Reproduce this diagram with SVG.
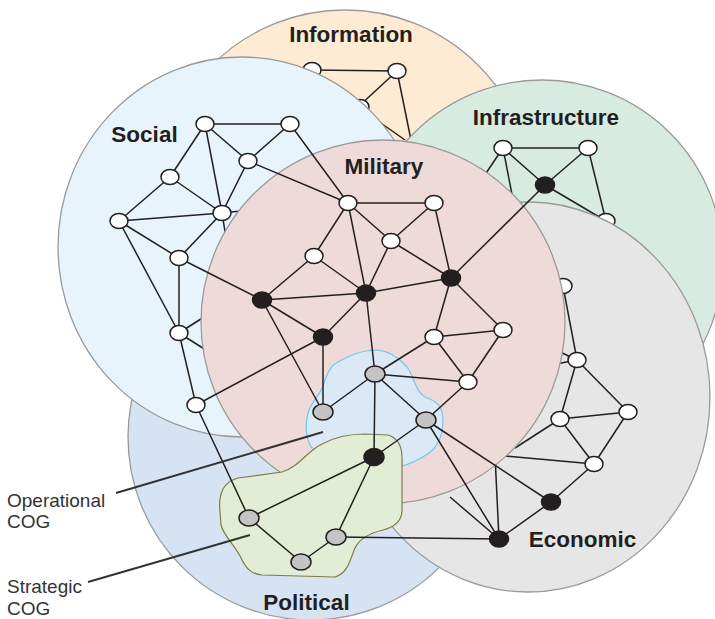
<svg xmlns="http://www.w3.org/2000/svg" width="715" height="619" viewBox="0 0 715 619">
<defs>
<style>
.c{stroke:#9a9a9a;stroke-width:1.3}
.e{stroke:#231f20;stroke-width:1.5;fill:none}
.w{fill:#ffffff;stroke:#231f20;stroke-width:1.5}
.k{fill:#231f20;stroke:#231f20;stroke-width:1.5}
.g{fill:#c4c4c4;stroke:#231f20;stroke-width:1.5}
.lbl{font-family:"Liberation Sans",Arial,Helvetica,sans-serif;font-weight:bold;font-size:22.5px;fill:#231f20;text-anchor:middle}
.ann{font-family:"Liberation Sans",Arial,Helvetica,sans-serif;font-size:19px;fill:#333333}
.lead{stroke:#333333;stroke-width:2;fill:none}
</style>
</defs>
<rect width="715" height="619" fill="#ffffff"/>

<g id="layer-information">
<circle class="c" cx="345" cy="198" r="188" fill="#fdebd4"/>
<g class="e"><line x1="312" y1="70" x2="397" y2="71"/><line x1="397" y1="71" x2="358" y2="107"/><line x1="397" y1="71" x2="413" y2="150"/><line x1="358" y1="107" x2="405" y2="140"/></g>
<g id="n-I1"><ellipse class="w" cx="312" cy="70" rx="9" ry="7.5"/></g>
<g id="n-I2"><ellipse class="w" cx="397" cy="71" rx="9" ry="7.5"/></g>
<g id="n-I3"><ellipse class="w" cx="360" cy="107" rx="9" ry="7.5"/></g>
<text class="lbl" x="351" y="42">Information</text>
</g>

<g id="layer-infrastructure">
<circle class="c" cx="542" cy="261" r="181" fill="#d7ebe1"/>
<g class="e"><line x1="503" y1="148" x2="588" y2="148"/><line x1="503" y1="148" x2="545" y2="185"/><line x1="588" y1="148" x2="545" y2="185"/><line x1="588" y1="148" x2="606" y2="221"/><line x1="545" y1="185" x2="606" y2="221"/><line x1="503" y1="148" x2="478" y2="185"/><line x1="503" y1="148" x2="515" y2="210"/></g>
<g id="n-F4"><ellipse class="w" cx="606" cy="221" rx="9" ry="7.5"/></g>
<text class="lbl" x="546" y="125">Infrastructure</text>
</g>

<g id="layer-political">
<circle class="c" cx="311" cy="437" r="183" fill="#d6e3f3"/>
</g>

<g id="layer-social">
<ellipse class="c" cx="242" cy="247" rx="184" ry="190" fill="#e7f4fb"/>
<g class="e">
<line x1="205" y1="124" x2="290" y2="124"/><line x1="205" y1="124" x2="248" y2="161"/><line x1="205" y1="124" x2="170" y2="177"/><line x1="205" y1="124" x2="222" y2="213"/>
<line x1="290" y1="124" x2="248" y2="161"/><line x1="248" y1="161" x2="222" y2="213"/><line x1="170" y1="177" x2="222" y2="213"/><line x1="170" y1="177" x2="119" y2="221"/>
<line x1="222" y1="213" x2="119" y2="221"/><line x1="222" y1="213" x2="179" y2="258"/><line x1="119" y1="221" x2="179" y2="258"/><line x1="119" y1="221" x2="179" y2="333"/>
<line x1="179" y1="258" x2="179" y2="333"/><line x1="179" y1="333" x2="196" y2="405"/>
<line x1="222" y1="213" x2="228" y2="250"/><line x1="222" y1="213" x2="250" y2="210"/><line x1="179" y1="333" x2="225" y2="362"/><line x1="179" y1="333" x2="218" y2="308"/>
</g>
<text class="lbl" x="144.5" y="142">Social</text>
</g>

<g id="layer-economic">
<ellipse class="c" cx="528" cy="397" rx="182" ry="195" fill="#e6e6e6"/>
<g class="e">
<line x1="563" y1="286" x2="577" y2="360"/><line x1="577" y1="360" x2="628" y2="412"/><line x1="577" y1="360" x2="560" y2="419"/><line x1="560" y1="419" x2="628" y2="412"/>
<line x1="628" y1="412" x2="594" y2="464"/><line x1="560" y1="419" x2="594" y2="464"/><line x1="594" y1="464" x2="551" y2="502"/><line x1="551" y1="502" x2="499" y2="539"/>
<line x1="577" y1="360" x2="535" y2="340"/><line x1="577" y1="360" x2="535" y2="368"/><line x1="560" y1="419" x2="515" y2="448"/><line x1="594" y1="464" x2="505" y2="456"/>
<line x1="499" y1="539" x2="495" y2="455"/><line x1="499" y1="539" x2="450" y2="497"/>
</g>
<g id="n-E1"><ellipse class="w" cx="563" cy="286" rx="9" ry="7.5"/></g>
</g>

<g id="layer-military">
<circle class="c" cx="383" cy="322" r="182" fill="#efdada"/>
</g>

<g id="operational-cog">
<path d="M312,448 C306,440 304,424 309,410 C313,400 320,395 323,386 C327,374 330,366 338,362 C349,356 361,350 377,350 C391,351 400,359 407,367 C414,376 415,391 425,397 C437,401 443,407 443,420 C443,439 436,449 426,455 C418,460 410,464 402,466 L380,462 L340,452 Z" fill="#dbe9f7" stroke="#72c6ea" stroke-width="1.2"/>
</g>

<g id="strategic-cog">
<path d="M220,512 C218,494 223,482 238,478 L282,472 C300,466 306,452 322,444 C335,437 350,434 365,434 L388,435 C398,438 402,446 402,458 L402,510 C402,520 395,527 383,530 C370,533 360,538 355,548 C350,560 348,573 335,577 L262,575 C251,574 246,568 242,560 C236,546 224,537 221,525 Z" fill="#e3edd5" stroke="#7d7d45" stroke-width="1.2"/>
</g>

<g id="connectors" class="e">
<line x1="290" y1="124" x2="348" y2="203"/><line x1="248" y1="161" x2="348" y2="203"/><line x1="179" y1="258" x2="262" y2="300"/>
<line x1="196" y1="405" x2="323" y2="337"/><line x1="196" y1="405" x2="249" y2="518"/><line x1="545" y1="185" x2="451" y2="278"/>
<line x1="348" y1="203" x2="434" y2="203"/><line x1="348" y1="203" x2="391" y2="241"/><line x1="348" y1="203" x2="314" y2="256"/><line x1="348" y1="203" x2="366" y2="293"/>
<line x1="434" y1="203" x2="391" y2="241"/><line x1="434" y1="203" x2="451" y2="278"/><line x1="391" y1="241" x2="366" y2="293"/><line x1="391" y1="241" x2="451" y2="278"/>
<line x1="314" y1="256" x2="262" y2="300"/><line x1="314" y1="256" x2="366" y2="293"/><line x1="262" y1="300" x2="366" y2="293"/><line x1="262" y1="300" x2="323" y2="337"/>
<line x1="262" y1="300" x2="323" y2="412"/><line x1="366" y1="293" x2="323" y2="337"/><line x1="366" y1="293" x2="451" y2="278"/><line x1="366" y1="293" x2="375" y2="374"/>
<line x1="451" y1="278" x2="434" y2="337"/><line x1="451" y1="278" x2="503" y2="330"/><line x1="434" y1="337" x2="503" y2="330"/><line x1="434" y1="337" x2="468" y2="382"/>
<line x1="503" y1="330" x2="468" y2="382"/><line x1="434" y1="337" x2="375" y2="374"/><line x1="323" y1="337" x2="323" y2="412"/>
<line x1="375" y1="374" x2="468" y2="382"/><line x1="468" y1="382" x2="426" y2="420"/>
<line x1="375" y1="374" x2="323" y2="412"/><line x1="375" y1="374" x2="426" y2="420"/><line x1="375" y1="374" x2="374" y2="457"/><line x1="426" y1="420" x2="374" y2="457"/>
<line x1="426" y1="420" x2="551" y2="502"/><line x1="426" y1="420" x2="499" y2="539"/>
<line x1="374" y1="457" x2="249" y2="518"/><line x1="374" y1="457" x2="336" y2="537"/><line x1="249" y1="518" x2="301" y2="562"/><line x1="301" y1="562" x2="336" y2="537"/>
<line x1="336" y1="537" x2="499" y2="539"/>
</g>

<g id="nodes">
<g id="n-F1"><ellipse class="w" cx="503" cy="148" rx="9" ry="7.5"/></g>
<g id="n-F2"><ellipse class="w" cx="588" cy="148" rx="9" ry="7.5"/></g>
<g id="n-F3"><ellipse class="k" cx="545" cy="185" rx="9.5" ry="8"/></g>
<g id="n-S1"><ellipse class="w" cx="205" cy="124" rx="9" ry="7.5"/></g>
<g id="n-S2"><ellipse class="w" cx="290" cy="124" rx="9" ry="7.5"/></g>
<g id="n-S3"><ellipse class="w" cx="248" cy="161" rx="9" ry="7.5"/></g>
<g id="n-S4"><ellipse class="w" cx="170" cy="177" rx="9" ry="7.5"/></g>
<g id="n-S5"><ellipse class="w" cx="222" cy="213" rx="9" ry="7.5"/></g>
<g id="n-S6"><ellipse class="w" cx="119" cy="221" rx="9" ry="7.5"/></g>
<g id="n-S7"><ellipse class="w" cx="179" cy="258" rx="9" ry="7.5"/></g>
<g id="n-S8"><ellipse class="w" cx="179" cy="333" rx="9" ry="7.5"/></g>
<g id="n-S9"><ellipse class="w" cx="196" cy="405" rx="9" ry="7.5"/></g>
<g id="n-M1"><ellipse class="w" cx="348" cy="203" rx="9" ry="7.5"/></g>
<g id="n-M2"><ellipse class="w" cx="434" cy="203" rx="9" ry="7.5"/></g>
<g id="n-M3"><ellipse class="w" cx="391" cy="241" rx="9" ry="7.5"/></g>
<g id="n-M4"><ellipse class="w" cx="314" cy="256" rx="9" ry="7.5"/></g>
<g id="n-M5"><ellipse class="k" cx="262" cy="300" rx="9.5" ry="8"/></g>
<g id="n-M6"><ellipse class="k" cx="366" cy="293" rx="9.5" ry="8"/></g>
<g id="n-M7"><ellipse class="k" cx="451" cy="278" rx="9.5" ry="8"/></g>
<g id="n-M8"><ellipse class="k" cx="323" cy="337" rx="9.5" ry="8"/></g>
<g id="n-M9"><ellipse class="w" cx="434" cy="337" rx="9" ry="7.5"/></g>
<g id="n-M10"><ellipse class="w" cx="503" cy="330" rx="9" ry="7.5"/></g>
<g id="n-M11"><ellipse class="w" cx="468" cy="382" rx="9" ry="7.5"/></g>
<g id="n-G1"><ellipse class="g" cx="323" cy="412" rx="10" ry="8"/></g>
<g id="n-G2"><ellipse class="g" cx="375" cy="374" rx="10" ry="8"/></g>
<g id="n-G3"><ellipse class="g" cx="426" cy="420" rx="10" ry="8"/></g>
<g id="n-B"><ellipse class="k" cx="374" cy="457" rx="10" ry="8.5"/></g>
<g id="n-P1"><ellipse class="g" cx="249" cy="518" rx="10" ry="8"/></g>
<g id="n-P2"><ellipse class="g" cx="336" cy="537" rx="10" ry="8"/></g>
<g id="n-P3"><ellipse class="g" cx="301" cy="562" rx="10" ry="8"/></g>
<g id="n-E2"><ellipse class="w" cx="577" cy="360" rx="9" ry="7.5"/></g>
<g id="n-E3"><ellipse class="w" cx="628" cy="412" rx="9" ry="7.5"/></g>
<g id="n-E5"><ellipse class="w" cx="560" cy="419" rx="9" ry="7.5"/></g>
<g id="n-E4"><ellipse class="w" cx="594" cy="464" rx="9" ry="7.5"/></g>
<g id="n-EB1"><ellipse class="k" cx="551" cy="502" rx="9.5" ry="8"/></g>
<g id="n-EB2"><ellipse class="k" cx="499" cy="539" rx="9.5" ry="8"/></g>
</g>

<g id="labels">
<text class="lbl" x="384" y="174">Military</text>
<text class="lbl" x="582.5" y="547">Economic</text>
<text class="lbl" x="306.5" y="610">Political</text>
<line class="lead" x1="116" y1="493" x2="323" y2="432"/>
<line class="lead" x1="88" y1="582" x2="250" y2="535"/>
<text class="ann" x="7" y="507">Operational</text>
<text class="ann" x="7" y="528">COG</text>
<text class="ann" x="7" y="593">Strategic</text>
<text class="ann" x="7" y="615">COG</text>
</g>
</svg>
